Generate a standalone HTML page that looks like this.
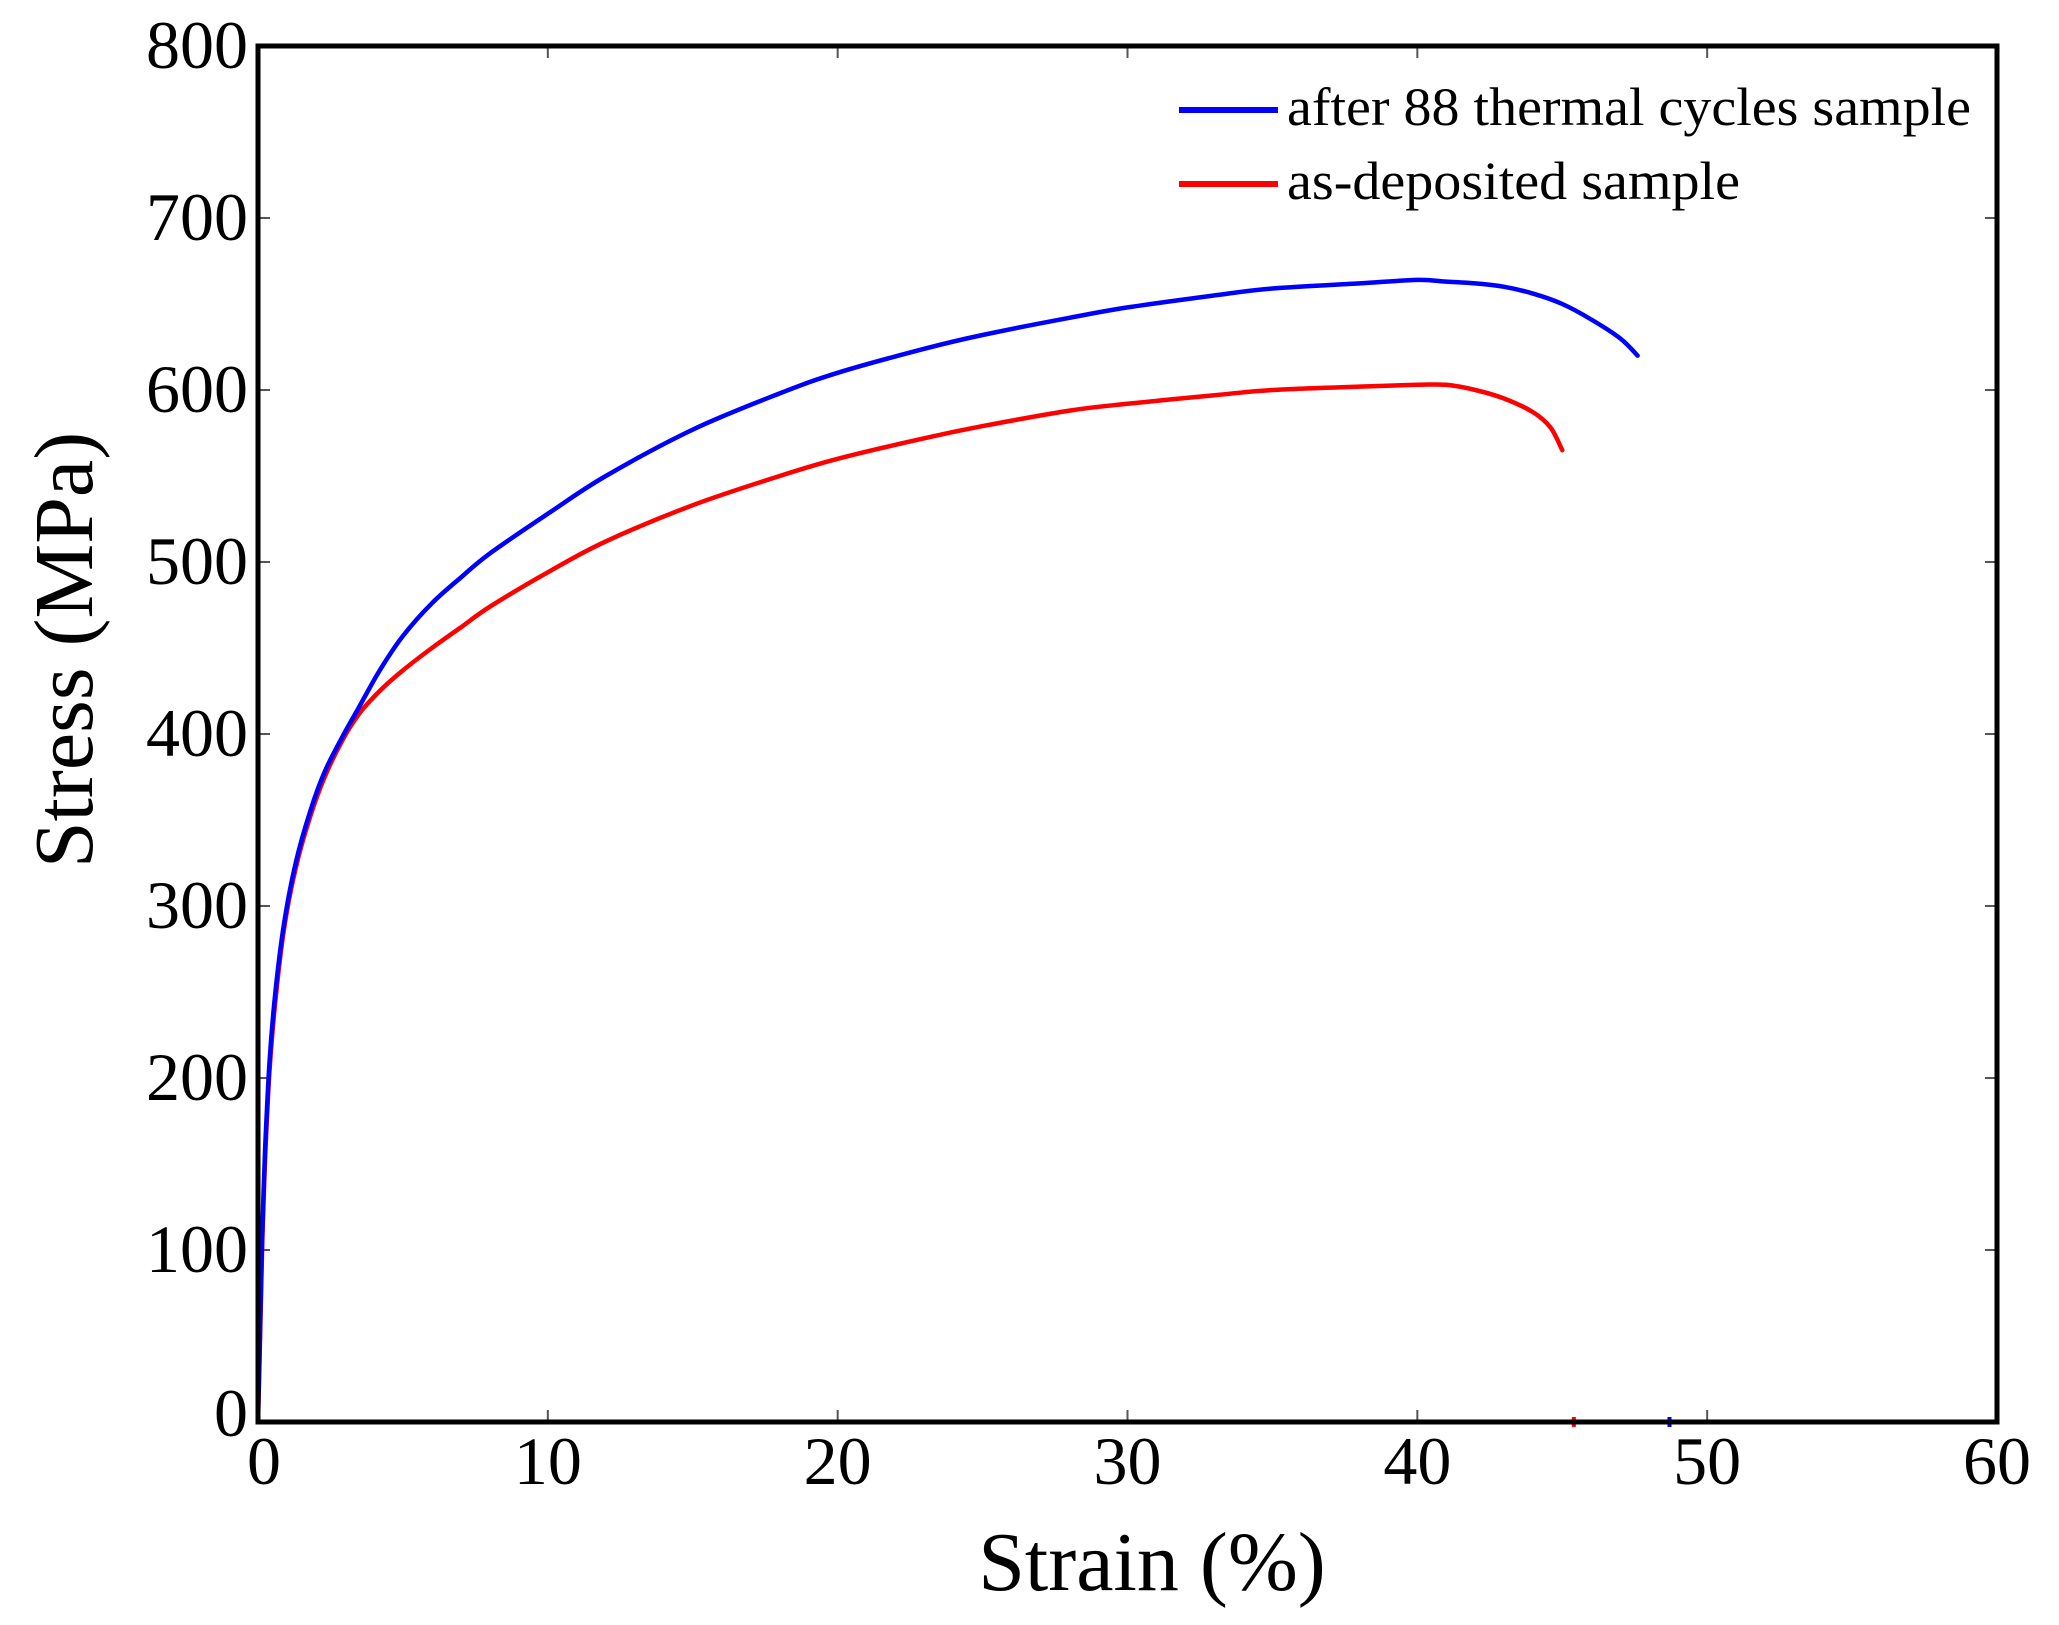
<!DOCTYPE html>
<html><head><meta charset="utf-8"><style>
html,body{margin:0;padding:0;background:#fff;}
svg{display:block;font-family:"Liberation Serif",serif;}
</style></head><body>
<svg id="chart" width="2059" height="1625" viewBox="0 0 2059 1625"></svg>
<script>
const xTicks=[0,10,20,30,40,50,60];
const yTicks=[0,100,200,300,400,500,600,700,800];
const seriesNames=["after 88 thermal cycles sample","as-deposited sample"];
const blueStrain=[0,0.08,0.15,0.25,0.4,0.6,0.9,1.3,1.8,2.3,2.9,3.5,4.2,5,6,7,8,10,12,15,18,20,23,25,28,30,33,35,38,40,41,42,43,44,45,46,47,47.6];
const blueStress=[0,60,110,160,210,250,290,325,355,378,398,416,437,457,476,491,505,528,550,577,598,610,624,632,642,648,655,659,662,664,663,662,660,656,650,641,630,620];
const redStrain=[0,0.08,0.15,0.25,0.4,0.6,0.9,1.3,1.8,2.3,2.9,3.5,4.2,5,6,7,8,10,12,15,18,20,23,25,28,30,33,35,38,40,41,42,43,44,44.6,45];
const redStress=[0,55,105,155,205,245,287,322,352,375,396,412,425,437,450,462,474,494,512,533,550,560,572,579,588,592,597,600,602,603,603,600,595,587,578,565];
const X0=258,X1=1997,Y0=1422,Y1=46;
const sx=v=>X0+(v-0)/(60-0)*(X1-X0);
const sy=v=>Y0-(v-0)/(800-0)*(Y0-Y1);
const NS="http://www.w3.org/2000/svg";
const svg=document.getElementById('chart');
function mk(tag,attrs,parent){const e=document.createElementNS(NS,tag);for(const k in attrs)e.setAttribute(k,attrs[k]);(parent||svg).appendChild(e);return e;}
xTicks.forEach(t=>{
  const a=mk('line',{x1:sx(t),x2:sx(t),y1:Y0,y2:Y0-12,stroke:'#555','stroke-width':2});
  
  
  const b=mk('line',{x1:sx(t),x2:sx(t),y1:Y1,y2:Y1+12,stroke:'#555','stroke-width':2});
  
  
  const l=mk('text',{x:sx(t)+(t===0?6:0),y:1484,'font-size':68,'text-anchor':'middle',fill:'#000'});
  l.textContent=t;
  
  
});
yTicks.forEach(t=>{
  const a=mk('line',{x1:X0,x2:X0+12,y1:sy(t),y2:sy(t),stroke:'#555','stroke-width':2});
  
  
  const b=mk('line',{x1:X1,x2:X1-12,y1:sy(t),y2:sy(t),stroke:'#555','stroke-width':2});
  
  
  const l=mk('text',{x:248,y:sy(t)+(t===0?14:22),'font-size':68,'text-anchor':'end',fill:'#000'});
  l.textContent=t;
  
  
});
function line(xs,ys,color,name){
  const P=xs.map((x,i)=>[sx(x),sy(ys[i])]);
  let d='M'+P[0][0].toFixed(1)+','+P[0][1].toFixed(1);
  for(let i=0;i<P.length-1;i++){
    const p0=P[Math.max(0,i-1)],p1=P[i],p2=P[i+1],p3=P[Math.min(P.length-1,i+2)];
    const c1=[p1[0]+(p2[0]-p0[0])/6,p1[1]+(p2[1]-p0[1])/6];
    const c2=[p2[0]-(p3[0]-p1[0])/6,p2[1]-(p3[1]-p1[1])/6];
    d+='C'+c1[0].toFixed(1)+','+c1[1].toFixed(1)+' '+c2[0].toFixed(1)+','+c2[1].toFixed(1)+' '+p2[0].toFixed(1)+','+p2[1].toFixed(1);
  }
  const p=mk('path',{d:d,fill:'none',stroke:color,'stroke-width':4.5,'stroke-linejoin':'round','stroke-linecap':'round'});
  
  
}
line(redStrain,redStress,'#f00','as-deposited-line');
line(blueStrain,blueStress,'#00f','thermal-cycles-line');
const m1=mk('rect',{x:sx(45.4)-2,y:Y0-5,width:4,height:10,fill:'#f00'});


const m2=mk('rect',{x:sx(48.7)-2,y:Y0-5,width:4,height:10,fill:'#00f'});


const fr=mk('rect',{x:X0,y:Y1,width:X1-X0,height:Y0-Y1,fill:'none',stroke:'#000','stroke-width':5});


const legY=[110,184],legC=['#00f','#f00'],legW=[684,453];
seriesNames.forEach((n,i)=>{
  const g=mk('g',{});
  
  
  mk('line',{x1:1179,x2:1278,y1:legY[i],y2:legY[i],stroke:legC[i],'stroke-width':6},g);
  const t=mk('text',{x:1287,y:legY[i]+15,'font-size':54,textLength:legW[i],lengthAdjust:'spacingAndGlyphs',fill:'#000'},g);
  t.textContent=n;
});
const xt=mk('text',{x:1152,y:1590,'font-size':84,'text-anchor':'middle',fill:'#000'});
xt.textContent='Strain (%)';


const yt=mk('text',{x:0,y:0,'font-size':84,'text-anchor':'middle',fill:'#000',transform:'translate(92,650) rotate(-90)'});
yt.textContent='Stress (MPa)';


</script>
</body></html>
